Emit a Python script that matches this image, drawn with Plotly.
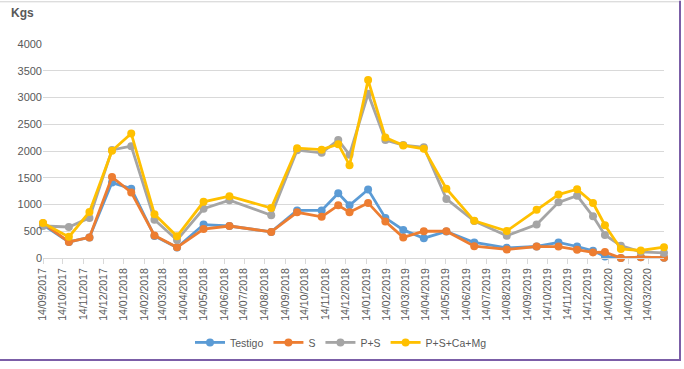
import plotly.graph_objects as go

dates = ["2017-09-14", "2017-10-23", "2017-11-23", "2017-12-27", "2018-01-25",
         "2018-03-01", "2018-04-04", "2018-05-14", "2018-06-22", "2018-08-24",
         "2018-10-02", "2018-11-08", "2018-12-03", "2018-12-20", "2019-01-17",
         "2019-02-12", "2019-03-11", "2019-04-11", "2019-05-15", "2019-06-26",
         "2019-08-14", "2019-09-28", "2019-10-31", "2019-11-28", "2019-12-22",
         "2020-01-09", "2020-02-02", "2020-03-03", "2020-04-07"]

testigo = [620, 300, 385, 1410, 1295, 410, 195, 625, 598, 488,
           890, 890, 1210, 985, 1280, 750, 525, 370, 495, 290,
           190, 215, 290, 215, 136, 30, 0, 15, 5]
s_vals = [650, 300, 385, 1515, 1225, 420, 200, 540, 598, 488,
          855, 770, 985, 855, 1030, 680, 385, 500, 500, 220,
          160, 214, 214, 155, 104, 110, 0, 15, 5]
ps_vals = [598, 580, 750, 2020, 2090, 715, 335, 920, 1080, 800,
           2015, 1965, 2205, 1930, 3070, 2205, 2110, 2070, 1105, 690,
           415, 625, 1040, 1165, 780, 430, 230, 115, 95]
pscamg = [655, 395, 860, 2005, 2328, 818, 405, 1050, 1155, 935,
          2052, 2025, 2128, 1735, 3325, 2252, 2105, 2040, 1295, 695,
          505, 900, 1185, 1285, 1028, 612, 168, 140, 202]

series_names = ["Testigo", "S", "P+S", "P+S+Ca+Mg"]
series_vals = [testigo, s_vals, ps_vals, pscamg]
colors = ["#5B9BD5", "#ED7D31", "#A5A5A5", "#FFC000"]

y_ticks = [0, 500, 1000, 1500, 2000, 2500, 3000, 3500, 4000]

W, H = 684, 369
L, R, T, B = 43, 20, 44, 107
pw, ph = W - L - R, H - T - B

def px_x(p):
    return (p - L) / pw

def px_y(p):
    return (H - B - p) / ph

fig = go.Figure()
for name, vals, col in zip(series_names, series_vals, colors):
    fig.add_trace(go.Scatter(
        x=dates, y=vals, name=name, mode="lines+markers",
        line=dict(color=col, width=2.8),
        marker=dict(color=col, size=8),
        cliponaxis=False,
    ))

font_col = "#595959"
fig.update_layout(
    width=W, height=H,
    margin=dict(l=L, r=R, t=T, b=B),
    paper_bgcolor="white", plot_bgcolor="white",
    font=dict(family="Liberation Sans, Arial, sans-serif", size=11, color=font_col),
    showlegend=True,
    legend=dict(orientation="h", x=px_x(341), xanchor="center",
                y=px_y(348), yanchor="middle",
                font=dict(size=10.5, color=font_col),
                itemwidth=30, tracegroupgap=0),
    xaxis=dict(
        type="date",
        range=[dates[0], dates[-1]],
        tick0="2017-09-14", dtick="M1",
        tickformat="%d/%m/%Y", tickangle=-90,
        showgrid=False, showline=True, linecolor="#d9d9d9", linewidth=1,
        ticks="outside", ticklen=5, tickcolor="#d9d9d9",
        tickfont=dict(size=10.5, color=font_col),
        zeroline=False,
    ),
    yaxis=dict(
        range=[0, 4000], tickvals=y_ticks,
        showgrid=True, gridcolor="#d9d9d9", gridwidth=1,
        zeroline=False, showline=False,
        tickfont=dict(size=11, color=font_col),
        ticks="",
    ),
    annotations=[dict(
        text="<b>Kgs</b>", xref="paper", yref="paper",
        x=px_x(9), y=px_y(12), xanchor="left", yanchor="middle",
        showarrow=False, font=dict(size=12, color=font_col),
    )],
    shapes=[
        dict(type="line", xref="paper", yref="paper",
             x0=px_x(0), x1=px_x(681), y0=px_y(1), y1=px_y(1),
             line=dict(color="#d0d0d0", width=1)),
        dict(type="line", xref="paper", yref="paper",
             x0=px_x(680), x1=px_x(680), y0=px_y(0), y1=px_y(367),
             line=dict(color="#7b5ea7", width=2)),
        dict(type="line", xref="paper", yref="paper",
             x0=px_x(0), x1=px_x(681), y0=px_y(366), y1=px_y(366),
             line=dict(color="#7b5ea7", width=2)),
    ],
)

fig.write_html("out.html",
               config={"displayModeBar": False},
               post_script="document.body.style.margin='0';"
                           "document.documentElement.style.overflow='hidden';")
